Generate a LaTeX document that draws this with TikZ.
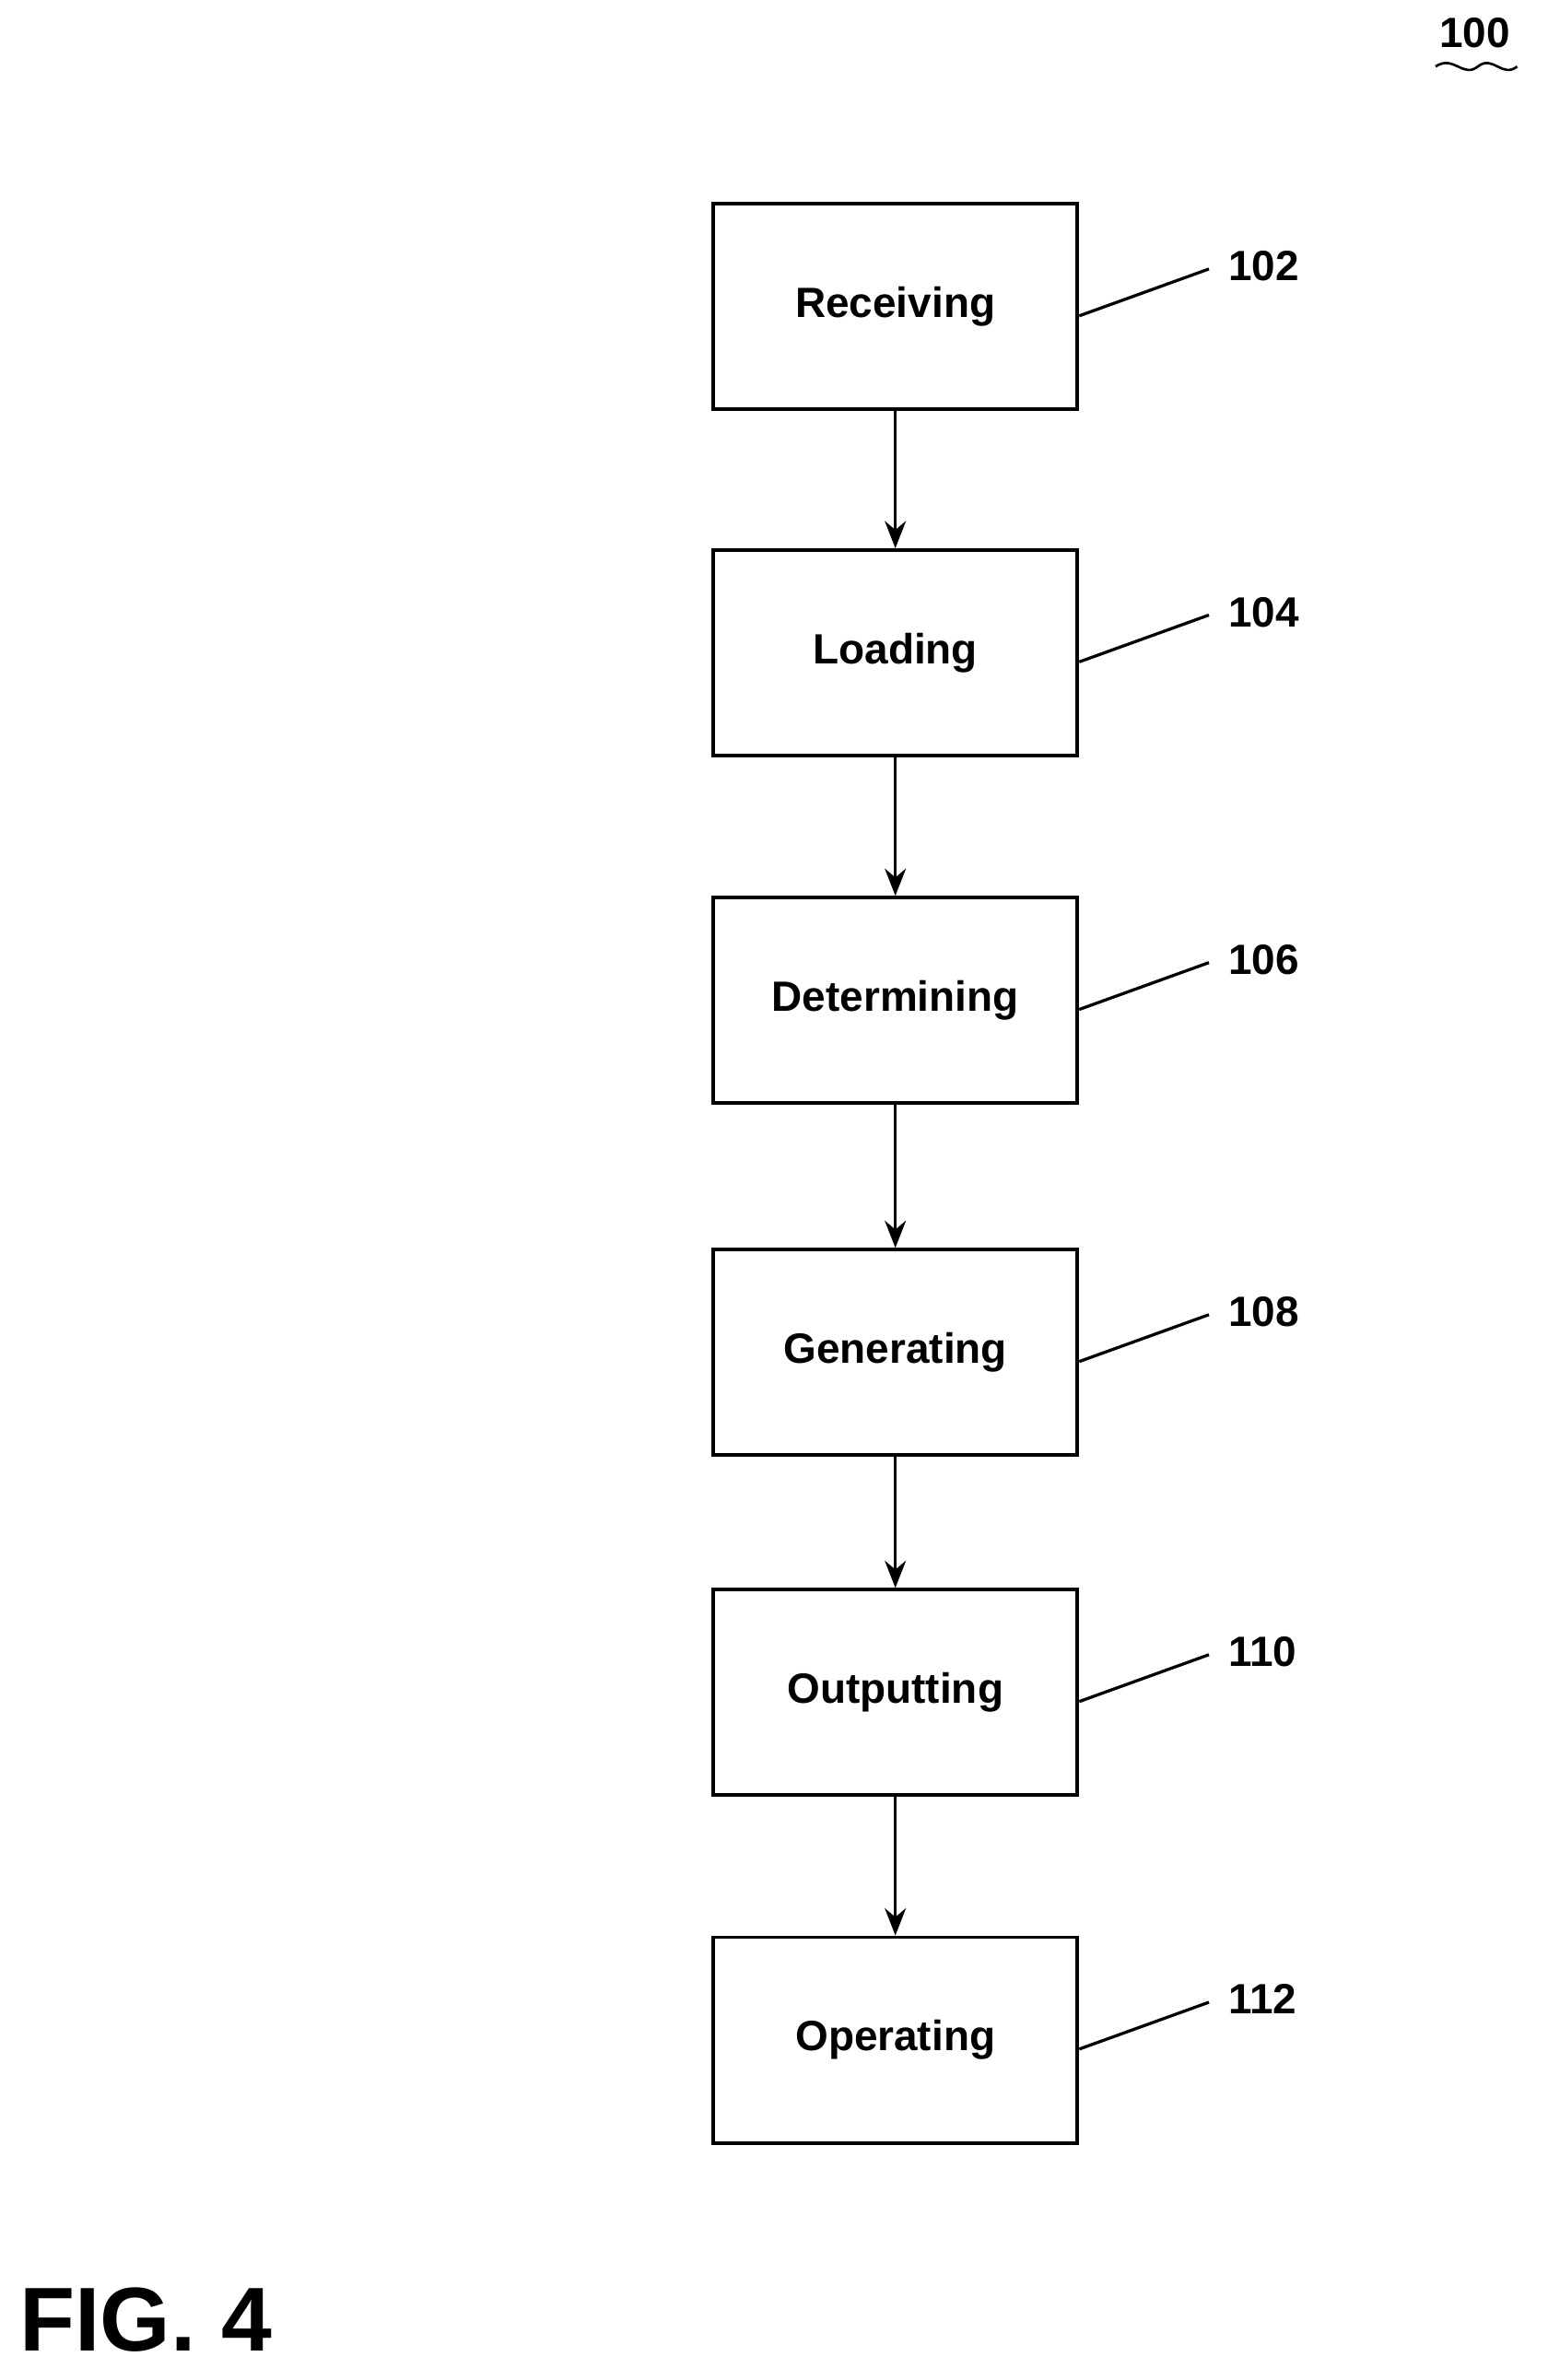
\documentclass[tikz,border=0pt]{standalone}
\usepackage{fontspec}
\setmainfont{Liberation Sans}
\usetikzlibrary{arrows.meta}
\begin{document}
\begin{tikzpicture}[x=0.5pt,y=-0.5pt,
  box/.style={draw,line width=1.2pt,minimum width=120.5pt,minimum height=68pt,inner sep=0pt,font=\bfseries\fontsize{14}{16}\selectfont},
  lbl/.style={font=\bfseries\fontsize{14}{16}\selectfont,anchor=west},
  lead/.style={line width=1pt},
  arr/.style={line width=1pt,-{Stealth[length=9pt,width=7pt]}}]
\useasboundingbox (0,0) rectangle (1024,1575);
\foreach \n/\t/\y/\num in {a/Receiving/203/102,b/Loading/432/104,c/Determining/662/106,d/Generating/895/108,e/Outputting/1120/110,f/Operating/1350/112}{
  \node[box] (\n) at (592.5,\y) {\t};
  \coordinate (\n l) at (800,\y-25);
  \node[lbl] (\n n) at (806,\y-27) {\num};
  \draw[lead] ([yshift=-3pt]\n.east) -- (\n l);
}
\draw[arr] (a) -- (b);
\draw[arr] (b) -- (c);
\draw[arr] (c) -- (d);
\draw[arr] (d) -- (e);
\draw[arr] (e) -- (f);
\node[font=\bfseries\fontsize{14}{16}\selectfont] (t) at (976,22) {100};
\draw[line width=0.8pt] (950,44) .. controls (962,36) and (968,52) .. (978,44) .. controls (988,36) and (994,52) .. (1004,44);
\node[font=\bfseries\fontsize{30}{34}\selectfont,anchor=west] (fig) at (6,1535) {FIG. 4};
\end{tikzpicture}
\end{document}
